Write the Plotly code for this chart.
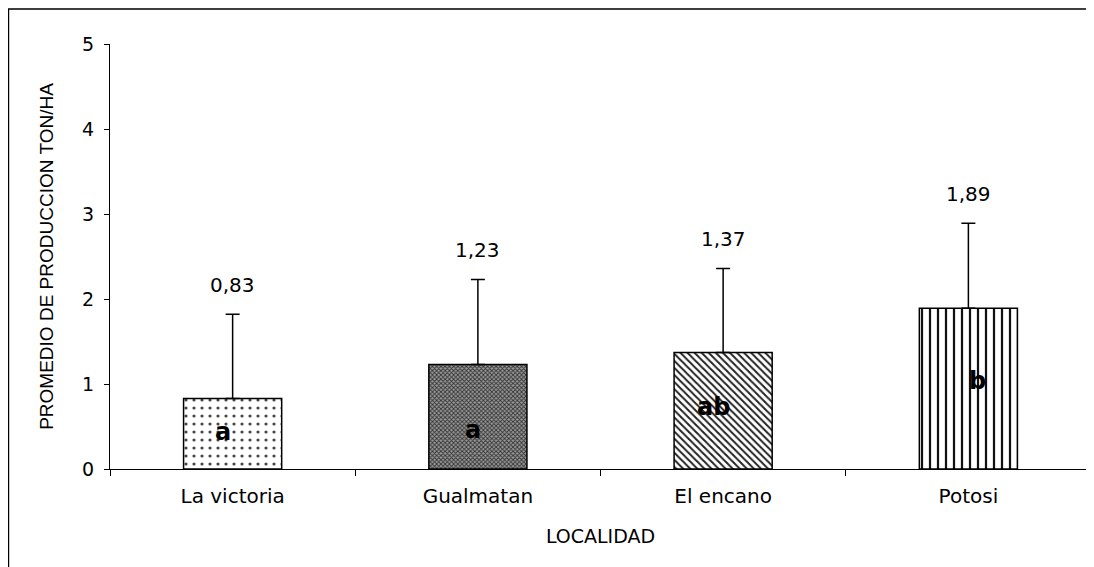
import plotly.graph_objects as go

categories = ["La victoria", "Gualmatan", "El encano", "Potosi"]
means = [0.83, 1.23, 1.37, 1.89]
errors = [0.99, 1.0, 0.99, 1.0]
value_labels = ["0,83", "1,23", "1,37", "1,89"]
groups = ["a", "a", "ab", "b"]
group_y = [0.44, 0.46, 0.73, 1.04]
group_xshift = [-10, -5, -10, 9]

FONT = "DejaVu Sans, Liberation Sans, Arial, sans-serif"
ARIAL = "Liberation Sans, Arial, sans-serif"

fig = go.Figure()
fig.add_trace(go.Bar(
    x=categories, y=means, width=0.4,
    marker=dict(
        color="white",
        line=dict(color="black", width=1.5),
        pattern=dict(
            shape=[".", "x", "\\", "|"],
            fgcolor=["#444444", "#333333", "#222222", "#111111"],
            bgcolor=["white", "#9a9a9a", "white", "white"],
            size=[8, 3, 5, 8],
            solidity=[0.12, 0.5, 0.4, 0.28],
            fillmode="replace",
        ),
    ),
    error_y=dict(type="data", symmetric=False, array=errors,
                 arrayminus=[0] * len(errors), color="black",
                 thickness=1.5, width=7),
    hoverinfo="skip",
))

for c, m, e, t in zip(categories, means, errors, value_labels):
    fig.add_annotation(x=c, y=m + e, text=t, showarrow=False, yshift=29,
                       yanchor="middle", font=dict(family=FONT, size=20, color="black"))

for c, g, gy, xs in zip(categories, groups, group_y, group_xshift):
    fig.add_annotation(x=c, y=gy, text=g, showarrow=False, xshift=xs,
                       yanchor="middle",
                       font=dict(family=FONT, size=24, color="black", weight="bold"))

# outer chart border
fig.add_shape(type="rect", xref="paper", yref="paper",
              x0=-0.1035, x1=1.3, y0=-0.5, y1=1.0824,
              line=dict(color="black", width=1.5), fillcolor="rgba(0,0,0,0)", layer="below")

# clipped title fragment at the top edge
fig.add_annotation(xref="paper", yref="paper", x=0.1468, y=1.113,
                   text="g", showarrow=False, yanchor="middle",
                   font=dict(family=FONT, size=18, color="black"))

fig.update_layout(
    width=1094, height=567,
    margin=dict(l=102, r=11, t=36, b=106),
    paper_bgcolor="white", plot_bgcolor="white",
    showlegend=False,
    font=dict(family=FONT, size=18, color="black"),
    xaxis=dict(
        type="category", tickson="boundaries", ticks="outside", ticklen=6,
        tickcolor="black", showline=True, linecolor="black", linewidth=1,
        showgrid=False, range=[-0.5, 3.5], ticklabelstandoff=9,
        tickfont=dict(family=FONT, size=20),
        title=dict(text="LOCALIDAD", font=dict(family=FONT, size=19), standoff=22),
    ),
    yaxis=dict(
        range=[0, 5], dtick=1, ticks="outside", ticklen=5, tickcolor="black",
        showline=True, linecolor="black", linewidth=1, showgrid=False, zeroline=False,
        tickfont=dict(family=FONT, size=19), ticklabelstandoff=6,
        title=dict(text="PROMEDIO DE PRODUCCION TON/HA",
                   font=dict(family=ARIAL, size=19), standoff=23),
    ),
)

fig.write_html("out.html")
